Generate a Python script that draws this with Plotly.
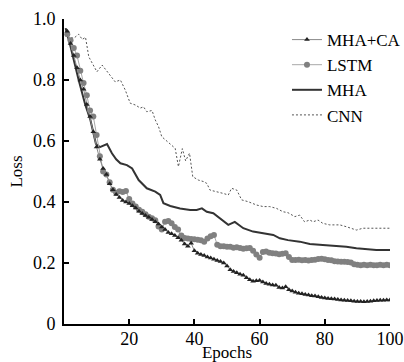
import plotly.graph_objects as go

# ---------------- data ----------------
epochs = list(range(1, 101))

mha_ca = [0.96, 0.92, 0.88, 0.84, 0.80, 0.77, 0.72, 0.68, 0.63, 0.58,
          0.54, 0.51, 0.49, 0.46, 0.44, 0.425, 0.415, 0.405, 0.40, 0.395,
          0.388, 0.38, 0.37, 0.362, 0.356, 0.350, 0.343, 0.335, 0.328, 0.318,
          0.310, 0.300, 0.296, 0.290, 0.283, 0.275, 0.262, 0.255, 0.265, 0.240,
          0.232, 0.228, 0.225, 0.220, 0.216, 0.212, 0.208, 0.205, 0.200, 0.190,
          0.178, 0.172, 0.168, 0.163, 0.160, 0.152, 0.145, 0.140, 0.142, 0.143,
          0.138, 0.133, 0.130, 0.128, 0.127, 0.120, 0.118, 0.122, 0.112, 0.108,
          0.104, 0.101, 0.099, 0.097, 0.095, 0.093, 0.092, 0.089, 0.087, 0.085,
          0.084, 0.083, 0.082, 0.080, 0.079, 0.078, 0.077, 0.076, 0.075, 0.074,
          0.074, 0.073, 0.074, 0.075, 0.076, 0.077, 0.078, 0.078, 0.079, 0.079]

lstm = [0.95, 0.93, 0.905, 0.88, 0.83, 0.79, 0.75, 0.70, 0.68, 0.62,
        0.55, 0.50, 0.49, 0.465, 0.44, 0.43, 0.435, 0.433, 0.436, 0.41,
        0.395, 0.385, 0.375, 0.368, 0.36, 0.352, 0.347, 0.34, 0.32, 0.31,
        0.335, 0.338, 0.33, 0.318, 0.31, 0.29, 0.282, 0.28, 0.279, 0.278,
        0.276, 0.275, 0.27, 0.28, 0.288, 0.292, 0.26, 0.255, 0.255, 0.253,
        0.253, 0.25, 0.252, 0.249, 0.247, 0.248, 0.249, 0.24, 0.228, 0.217,
        0.236, 0.238, 0.234, 0.232, 0.231, 0.229, 0.23, 0.232, 0.22, 0.21,
        0.21, 0.211, 0.209, 0.21, 0.208, 0.21, 0.211, 0.213, 0.214, 0.212,
        0.21, 0.209, 0.206, 0.205, 0.204, 0.204, 0.203, 0.202, 0.196, 0.194,
        0.193, 0.194, 0.193, 0.194, 0.193, 0.193, 0.194, 0.193, 0.194, 0.193]

mha_x = [0.5, 2, 4.5, 6.5, 8.1, 9.1, 9.8, 11, 12, 13.2, 14.7, 16, 17.3, 19.3, 20.9,
         22.9, 25.4, 28, 29.5, 30.5, 32.6, 35.6, 38.7, 40.7, 42.3, 43.8, 45.8, 47.9,
         50.4, 52.4, 55, 58, 61.1, 64.2, 66.2, 68.7, 72.3, 75.4, 79.4, 83.5, 86.6,
         89.7, 92.7, 95.8, 100]
mha_y = [0.97, 0.91, 0.80, 0.72, 0.669, 0.62, 0.59, 0.58, 0.585, 0.59, 0.56, 0.54,
         0.527, 0.521, 0.51, 0.472, 0.445, 0.434, 0.423, 0.396, 0.387, 0.379, 0.374,
         0.374, 0.379, 0.368, 0.363, 0.347, 0.325, 0.335, 0.314, 0.303, 0.297, 0.292,
         0.281, 0.275, 0.27, 0.262, 0.259, 0.256, 0.253, 0.248, 0.245, 0.243, 0.243]

cnn_x = [0.5, 1.5, 3, 4.5, 5.6, 6.6, 7.6, 10.1, 11.7, 13.7, 15.7, 17.3, 18.8, 20.3,
         21.9, 23.4, 24.4, 25.4, 27, 28, 29, 30, 31.5, 32.6, 34.1, 35.1, 36.3, 37.3,
         38.5, 39.5, 41.2, 42.8, 43.8, 44.8, 46.9, 48.9, 50.4, 51.4, 53, 54.5, 56.5,
         59.1, 61.1, 63.1, 65.2, 67.2, 68.7, 70.8, 72.3, 73.8, 75.4, 76.4, 77.9, 79.4,
         81.5, 84.6, 86.6, 89.7, 91.7, 94.7, 100]
cnn_y = [0.97, 0.94, 0.937, 0.95, 0.933, 0.94, 0.876, 0.827, 0.849, 0.822, 0.794,
         0.80, 0.767, 0.724, 0.718, 0.708, 0.712, 0.696, 0.70, 0.669, 0.647, 0.614,
         0.60, 0.592, 0.576, 0.516, 0.575, 0.535, 0.56, 0.483, 0.472, 0.467, 0.461,
         0.439, 0.434, 0.428, 0.423, 0.445, 0.439, 0.407, 0.401, 0.39, 0.385, 0.385,
         0.379, 0.368, 0.365, 0.352, 0.357, 0.335, 0.341, 0.335, 0.341, 0.33, 0.325,
         0.325, 0.319, 0.308, 0.314, 0.314, 0.314]

x_ticks = [20, 40, 60, 80, 100]
y_ticks = [0, 0.2, 0.4, 0.6, 0.8, 1.0]
y_tick_labels = ["0", "0.2", "0.4", "0.6", "0.8", "1.0"]

# ---------------- figure ----------------
SERIF = "Liberation Serif, Times New Roman, serif"

fig = go.Figure()
fig.add_trace(go.Scatter(x=cnn_x, y=cnn_y, mode="lines", name="CNN",
                         line=dict(color="#555555", width=1, dash="2px,2px"),
                         legendrank=4))
fig.add_trace(go.Scatter(x=mha_x, y=mha_y, mode="lines", name="MHA",
                         line=dict(color="#333333", width=2),
                         legendrank=3))
fig.add_trace(go.Scatter(x=epochs, y=lstm, mode="lines+markers", name="LSTM",
                         line=dict(color="#a8a8a8", width=1),
                         marker=dict(symbol="circle", size=6, color="#808080"),
                         legendrank=2))
fig.add_trace(go.Scatter(x=epochs, y=mha_ca, mode="lines+markers", name="MHA+CA",
                         line=dict(color="#888888", width=1),
                         marker=dict(symbol="triangle-up", size=5, color="#222222"),
                         legendrank=1))

axis_common = dict(showline=True, linecolor="black", linewidth=2,
                   ticks="inside", ticklen=5, tickwidth=2, tickcolor="black",
                   showgrid=False, zeroline=False, mirror=False, automargin=False,
                   tickfont=dict(family=SERIF, size=18, color="black"))

fig.update_xaxes(range=[0, 100], tickvals=x_ticks, ticktext=[str(v) for v in x_ticks],
                 title=dict(text="Epochs", font=dict(family=SERIF, size=17, color="black"),
                            standoff=0),
                 ticklabelstandoff=-3,
                 **axis_common)
fig.update_yaxes(range=[0, 1.0], tickvals=y_ticks, ticktext=y_tick_labels,
                 title=dict(text="Loss", font=dict(family=SERIF, size=17, color="black"),
                            standoff=6),
                 ticklabelstandoff=3,
                 **axis_common)

fig.update_layout(
    width=404, height=362,
    margin=dict(l=64, r=14, t=19, b=38, pad=0, autoexpand=False),
    plot_bgcolor="white", paper_bgcolor="white",
    legend=dict(x=0.684, y=0.99, xanchor="left", yanchor="top",
                font=dict(family=SERIF, size=17, color="black"),
                bgcolor="rgba(0,0,0,0)", tracegroupgap=0, itemwidth=30),
)

fig.write_html("out.html", config={"displayModeBar": False},
               post_script="document.body.style.margin='0';document.body.style.overflow='hidden';")
